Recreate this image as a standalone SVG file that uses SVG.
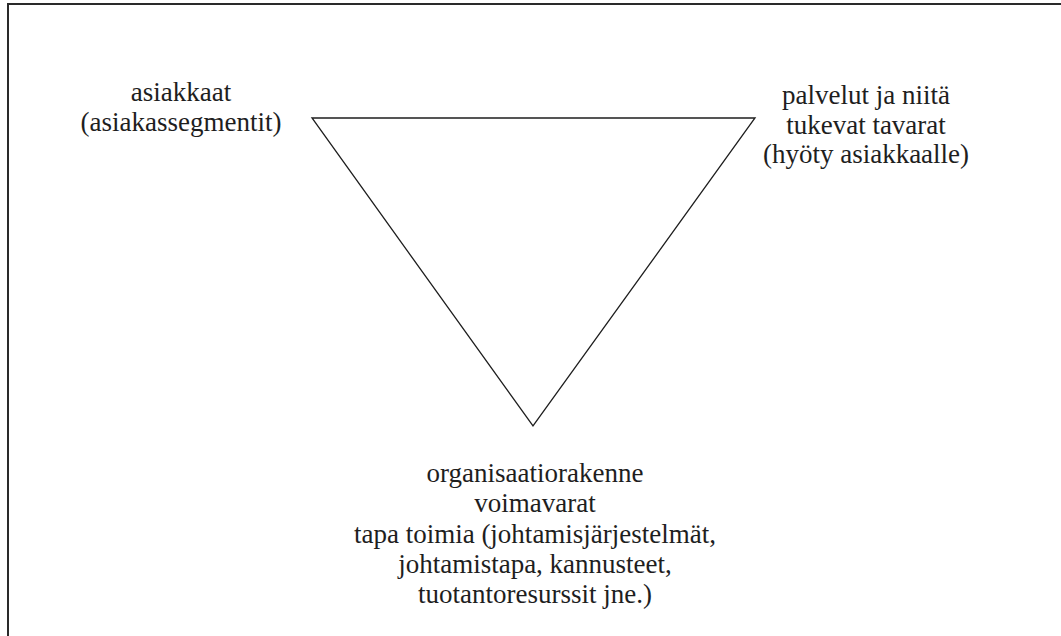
<svg xmlns="http://www.w3.org/2000/svg" width="1061" height="636" viewBox="0 0 1061 636">
  <style>
    .lbl { font-family: "Liberation Serif", "Times New Roman", serif; font-size: 27px; fill: #1e1e1e; text-anchor: middle; }
    .frame { fill: none; stroke: #2a2a2a; stroke-width: 2; }
    .tri { fill: none; stroke: #1e1e1e; stroke-width: 1.3; stroke-linejoin: miter; }
  </style>
  <rect width="1061" height="636" fill="#ffffff"/>
  <!-- outer frame, running off the right and bottom edges -->
  <rect class="frame" x="8" y="4" width="1070" height="650"/>

  <g id="connectors">
    <polygon class="tri" points="312,118 755,118 533,426"/>
  </g>

  <g id="node-asiakkaat">
    <text class="lbl" x="181" y="101">asiakkaat</text>
    <text class="lbl" x="181" y="131">(asiakassegmentit)</text>
  </g>

  <g id="node-palvelut">
    <text class="lbl" x="866" y="104">palvelut ja niitä</text>
    <text class="lbl" x="866" y="133.5">tukevat tavarat</text>
    <text class="lbl" x="866" y="163">(hyöty asiakkaalle)</text>
  </g>

  <g id="node-organisaatio">
    <text class="lbl" x="535" y="482">organisaatiorakenne</text>
    <text class="lbl" x="535" y="512">voimavarat</text>
    <text class="lbl" x="535" y="542.5">tapa toimia (johtamisjärjestelmät,</text>
    <text class="lbl" x="535" y="573">johtamistapa, kannusteet,</text>
    <text class="lbl" x="535" y="603">tuotantoresurssit jne.)</text>
  </g>
</svg>
